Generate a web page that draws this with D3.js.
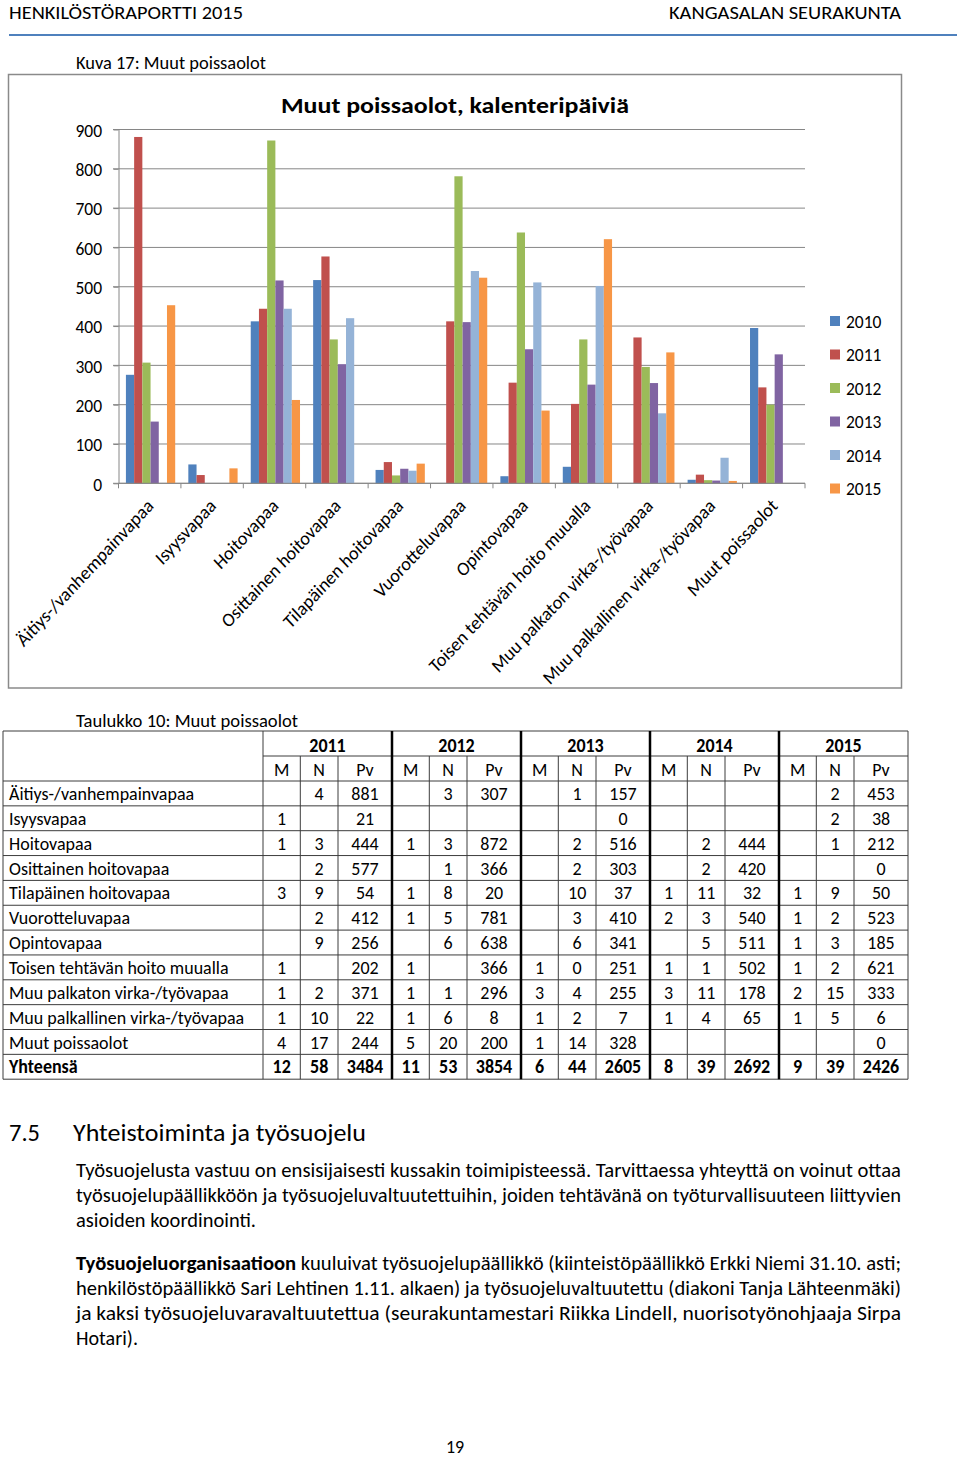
<!DOCTYPE html>
<html><head><meta charset="utf-8">
<script src="https://cdn.jsdelivr.net/npm/d3@7"></script>
<style>
body{margin:0;background:#fff}
svg{display:block}
text{font-family:Carlito, Lato, sans-serif; fill:#000}
</style>
</head><body>
<svg id="page" width="960" height="1458"></svg>
<script>
// ---------- DATA ----------
const categories = ["Äitiys-/vanhempainvapaa","Isyysvapaa","Hoitovapaa","Osittainen hoitovapaa","Tilapäinen hoitovapaa","Vuorotteluvapaa","Opintovapaa","Toisen tehtävän hoito muualla","Muu palkaton virka-/työvapaa","Muu palkallinen virka-/työvapaa","Muut poissaolot"];
const years = ["2010","2011","2012","2013","2014","2015"];
const v2010 = [276, 48, 412, 517, 34, 0, 18, 42, 0, 9, 395];
const v2011 = [881, 21, 444, 577, 54, 412, 256, 202, 371, 22, 244];
const v2012 = [307, 0, 872, 366, 20, 781, 638, 366, 296, 8, 200];
const v2013 = [157, 0, 516, 303, 37, 410, 341, 251, 255, 7, 328];
const v2014 = [0, 0, 444, 420, 32, 540, 511, 502, 178, 65, 0];
const v2015 = [453, 38, 212, 0, 50, 523, 185, 621, 333, 6, 0];
const yTicks = [0,100,200,300,400,500,600,700,800,900];

const tableYears = ["2011","2012","2013","2014","2015"];
const tableSub = ["M","N","Pv"];
const tableLabels = ["Äitiys-/vanhempainvapaa","Isyysvapaa","Hoitovapaa","Osittainen hoitovapaa","Tilapäinen hoitovapaa","Vuorotteluvapaa","Opintovapaa","Toisen tehtävän hoito muualla","Muu palkaton virka-/työvapaa","Muu palkallinen virka-/työvapaa","Muut poissaolot","Yhteensä"];
const t2011 = [["","4","881"],["1","","21"],["1","3","444"],["","2","577"],["3","9","54"],["","2","412"],["","9","256"],["1","","202"],["1","2","371"],["1","10","22"],["4","17","244"],["12","58","3484"]];
const t2012 = [["","3","307"],["","",""],["1","3","872"],["","1","366"],["1","8","20"],["1","5","781"],["","6","638"],["1","","366"],["1","1","296"],["1","6","8"],["5","20","200"],["11","53","3854"]];
const t2013 = [["","1","157"],["","","0"],["","2","516"],["","2","303"],["","10","37"],["","3","410"],["","6","341"],["1","0","251"],["3","4","255"],["1","2","7"],["1","14","328"],["6","44","2605"]];
const t2014 = [["","",""],["","",""],["","2","444"],["","2","420"],["1","11","32"],["2","3","540"],["","5","511"],["1","1","502"],["3","11","178"],["1","4","65"],["","",""],["8","39","2692"]];
const t2015 = [["","2","453"],["","2","38"],["","1","212"],["","","0"],["1","9","50"],["1","2","523"],["1","3","185"],["1","2","621"],["2","15","333"],["1","5","6"],["","","0"],["9","39","2426"]];

const headerLeft = "HENKILÖSTÖRAPORTTI 2015";
const headerRight = "KANGASALAN SEURAKUNTA";
const figCaption = "Kuva 17: Muut poissaolot";
const chartTitle = "Muut poissaolot, kalenteripäiviä";
const tableCaption = "Taulukko 10: Muut poissaolot";
const sectionNo = "7.5";
const sectionTitle = "Yhteistoiminta ja työsuojelu";
const para1 = ["Työsuojelusta vastuu on ensisijaisesti kussakin toimipisteessä. Tarvittaessa yhteyttä on voinut ottaa",
 "työsuojelupäällikköön ja työsuojeluvaltuutettuihin, joiden tehtävänä on työturvallisuuteen liittyvien",
 "asioiden koordinointi."];
const para2Bold = "Työsuojeluorganisaatioon";
const para2 = [" kuuluivat työsuojelupäällikkö (kiinteistöpäällikkö Erkki Niemi 31.10. asti;",
 "henkilöstöpäällikkö Sari Lehtinen 1.11. alkaen) ja työsuojeluvaltuutettu (diakoni Tanja Lähteenmäki)",
 "ja kaksi työsuojeluvaravaltuutettua (seurakuntamestari Riikka Lindell, nuorisotyönohjaaja Sirpa",
 "Hotari)."];
const pageNo = "19";

// ---------- STYLE ----------
const colors = ["#4F81BD","#C0504D","#9BBB59","#8064A2","#95B3D7","#F79646"];
const SY = 1.074;
const FS = 18;
const svg = d3.select("#page");

function T(g, x, y, s, o = {}) {
  const t = g.append("text")
    .attr("transform", `translate(${x},${y}) scale(1,${SY})` + (o.rot ? ` rotate(${o.rot})` : ""))
    .attr("font-size", o.size || FS)
    .attr("text-anchor", o.anchor || "start")
    .text(s);
  if (o.bold) t.attr("font-weight", "bold");
  if (o.w) t.attr("textLength", o.w).attr("lengthAdjust", "spacingAndGlyphs");
  if (o.fill) t.style("fill", o.fill);
  return t;
}

// ---------- PAGE HEADER ----------
T(svg, 9, 19, headerLeft, {size: 17.5, w: 234});
T(svg, 669, 19, headerRight, {size: 17.5, w: 232});
svg.append("line").attr("x1", 9).attr("x2", 957).attr("y1", 35).attr("y2", 35)
  .attr("stroke", "#4F81BD").attr("stroke-width", 2);
T(svg, 76, 69, figCaption, {size: 17.5, w: 190});

// ---------- CHART ----------
const chart = svg.append("g");
chart.append("rect").attr("x", 8.5).attr("y", 74.5).attr("width", 893).attr("height", 613.5)
  .attr("fill", "#fff").attr("stroke", "#8a8a8a").attr("stroke-width", 1.5);

T(chart, 281, 113, chartTitle, {size: 21, bold: true, w: 348});

const x0 = d3.scaleBand().domain(categories).range([118.5, 805]).paddingInner(0).paddingOuter(0);
const x1 = d3.scaleBand().domain(years).range([0, x0.bandwidth()]).paddingInner(0).paddingOuter(0.8).align(0.565);
const y = d3.scaleLinear().domain([0, 900]).range([483.3, 129.5]);
const series = [v2010, v2011, v2012, v2013, v2014, v2015];

// gridlines
chart.append("g").selectAll("line").data(yTicks).join("line")
  .attr("x1", 113).attr("x2", 805)
  .attr("y1", d => y(d)).attr("y2", d => y(d))
  .attr("stroke", "#868686").attr("stroke-width", 1);

// y axis
const yAxis = chart.append("g").attr("transform", "translate(118.5,0)")
  .call(d3.axisLeft(y).tickValues(yTicks).tickSize(5).tickSizeOuter(0));
yAxis.select(".domain").attr("stroke", "#868686");
yAxis.selectAll(".tick line").attr("stroke", "#868686");
yAxis.selectAll(".tick text").attr("x", -16.5).attr("dy", "0.36em")
  .attr("font-size", 17.5).attr("font-family", null)
  .attr("transform", `scale(1,${SY})`).style("fill", "#000");

// bars
const groups = chart.append("g").selectAll("g").data(categories).join("g")
  .attr("transform", d => `translate(${x0(d)},0)`);
groups.selectAll("rect").data((c, ci) => years.map((yr, si) => ({yr, si, v: series[si][ci]})))
  .join("rect")
  .attr("x", d => x1(d.yr)).attr("width", x1.bandwidth())
  .attr("y", d => y(d.v)).attr("height", d => y(0) - y(d.v))
  .attr("fill", d => colors[d.si]);

// x axis baseline & boundary ticks
chart.append("line").attr("x1", 118.5).attr("x2", 805).attr("y1", y(0)).attr("y2", y(0)).attr("stroke", "#868686");
const bounds = categories.map(c => x0(c)).concat([x0.range()[1]]);
chart.append("g").selectAll("line").data(bounds).join("line")
  .attr("x1", d => d).attr("x2", d => d).attr("y1", y(0)).attr("y2", y(0) + 5)
  .attr("stroke", "#868686");

// category labels
categories.forEach(c => {
  T(chart, x0(c) + x0.bandwidth() / 2 + 5, 507, c, {size: 18, anchor: "end", rot: -45});
});

// legend
years.forEach((yr, i) => {
  const cy = 321 + i * 33.5;
  chart.append("rect").attr("x", 830).attr("y", cy - 5).attr("width", 10).attr("height", 10).attr("fill", colors[i]);
  T(chart, 846, cy + 6.5, yr, {size: 17.5});
});

// ---------- TABLE ----------
T(svg, 76, 727, tableCaption, {size: 17.5, w: 222});
const tbl = svg.append("g");
const tableData = [t2011, t2012, t2013, t2014, t2015];
const gx = d3.scaleBand().domain(tableYears).range([263, 908]);
const subOff = [0, 37.3, 75, 129];
const rowTop0 = 781, rowH = 24.85;
const nRows = tableLabels.length;
const tBottom = rowTop0 + nRows * rowH;
const thin = "#3c3c3c";

tbl.append("line").attr("x1", 3).attr("x2", 908).attr("y1", 731).attr("y2", 731).attr("stroke", thin);
tbl.append("line").attr("x1", 263).attr("x2", 908).attr("y1", 756).attr("y2", 756).attr("stroke", thin);
d3.range(nRows + 1).forEach(i => {
  const yy = rowTop0 + i * rowH;
  tbl.append("line").attr("x1", 3).attr("x2", 908).attr("y1", yy).attr("y2", yy).attr("stroke", thin);
});
[3, 263, 908].forEach(xx => tbl.append("line").attr("x1", xx).attr("x2", xx).attr("y1", 731).attr("y2", tBottom).attr("stroke", thin));
tableYears.forEach((yr, gi) => {
  const gs = gx(yr);
  [subOff[1], subOff[2]].forEach(o => tbl.append("line").attr("x1", gs + o).attr("x2", gs + o).attr("y1", 756).attr("y2", tBottom).attr("stroke", thin));
  if (gi > 0) tbl.append("line").attr("x1", gs).attr("x2", gs).attr("y1", 731).attr("y2", tBottom).attr("stroke", "#000").attr("stroke-width", 2.5);
  T(tbl, gs + gx.bandwidth() / 2, 751.5, yr, {bold: true, anchor: "middle"});
  tableSub.forEach((s, si) => T(tbl, gs + (subOff[si] + subOff[si + 1]) / 2, 776, s, {anchor: "middle"}));
});
tableLabels.forEach((lab, ri) => {
  const top = rowTop0 + ri * rowH;
  const bold = ri === nRows - 1;
  T(tbl, 9, top + 19, lab, {bold});
  tableYears.forEach((yr, gi) => {
    const gs = gx(yr);
    tableData[gi][ri].forEach((val, si) => {
      if (val !== "") T(tbl, gs + (subOff[si] + subOff[si + 1]) / 2, top + 19, val, {bold, anchor: "middle"});
    });
  });
});

// ---------- SECTION TEXT ----------
T(svg, 9, 1141, sectionNo, {size: 23, w: 31});
T(svg, 73, 1141, sectionTitle, {size: 22.5, w: 293});

const pSize = 18.5;
const fullW = 825;
// line widths: justified lines fill the column; last lines keep their own width
const p1Widths = [fullW, fullW, 180];
const p2Widths = [fullW, fullW, fullW, 62];
para1.forEach((line, i) => {
  T(svg, 76, 1177 + i * 25, line, {size: pSize, w: p1Widths[i]});
});
para2.forEach((line, i) => {
  if (i === 0) {
    const t = svg.append("text").attr("transform", `translate(76,1270) scale(1,${SY})`).attr("font-size", pSize)
      .attr("textLength", p2Widths[0]).attr("lengthAdjust", "spacingAndGlyphs");
    t.append("tspan").attr("font-weight", "bold").text(para2Bold);
    t.append("tspan").text(line);
  } else {
    T(svg, 76, 1270 + i * 25, line, {size: pSize, w: p2Widths[i]});
  }
});

T(svg, 455, 1453, pageNo, {anchor: "middle"});
</script>
</body></html>
